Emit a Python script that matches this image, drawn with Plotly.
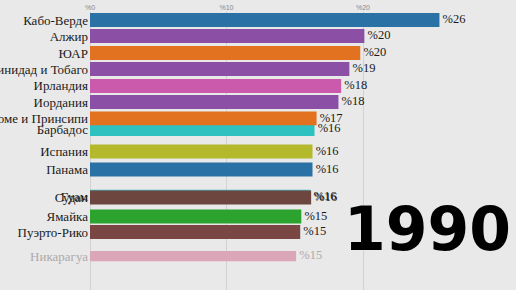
import plotly.graph_objects as go

# ---- data ----
countries = ["Кабо-Верде", "Алжир", "ЮАР", "Тринидад и Тобаго", "Ирландия",
             "Иордания", "Барбадос", "Сан-Томе и Принсипи", "Испания", "Панама",
             "Гуам", "Судан", "Ямайка", "Пуэрто-Рико", "Никарагуа"]
values = [25.6, 20.1, 19.8, 19.0, 18.4, 18.2, 16.45, 16.6, 16.3, 16.3,
          16.15, 16.2, 15.48, 15.4, 15.1]
rank = [1.0, 1.98, 3.01, 3.99, 5.02, 6.0, 7.65, 7.0, 9.02, 10.12,
        11.78, 11.82, 12.98, 13.93, 15.4]
year = "1990"
x_ticks = [0, 10, 20]
x_tick_labels = ["%0", "%10", "%20"]

# ---- styles ----
colors = ["#2a72a6", "#8b4fa6", "#e2721f", "#8b4fa6", "#cc5aac",
          "#8b4fa6", "#2fc0c0", "#e2721f", "#b3b92a", "#2a72a6",
          "#3fb8c4", "#6e4640", "#2ca32f", "#7a4643", "#dba7b8"]
bar_w = [0.85] * 14 + [0.62]
label_colors = ["#1a1a1a"] * 14 + ["#b0a8ab"]

W, H = 516, 290
ML, MR, MT, MB = 90, 0, 12, 0
px_per_unit = 13.65
px_per_rank = 16.4
plot_w = W - ML - MR
plot_h = H - MT - MB
x_max = plot_w / px_per_unit
r0 = 1 - (20 - MT) / px_per_rank
r1 = r0 + plot_h / px_per_rank

fig = go.Figure()
fig.add_trace(go.Bar(
    x=values, y=rank, orientation="h", width=bar_w,
    marker=dict(color=colors, line=dict(width=0)),
    hoverinfo="skip",
))
fig.add_trace(go.Scatter(
    x=values, y=rank, mode="text",
    text=[" %" + str(int(v + 0.5)) for v in values],
    textposition="middle right",
    textfont=dict(family="Liberation Serif", size=12.5, color=label_colors),
    cliponaxis=False, hoverinfo="skip",
))

ticktext = [f'<span style="color:{c}">{n}</span>' for n, c in zip(countries, label_colors)]

fig.update_layout(
    width=W, height=H,
    margin=dict(l=ML, r=MR, t=MT, b=MB, autoexpand=False),
    paper_bgcolor="#e9e9e9", plot_bgcolor="#e9e9e9",
    showlegend=False,
    xaxis=dict(range=[0, x_max], side="top", tickvals=x_ticks, ticktext=x_tick_labels,
               tickfont=dict(family="Liberation Sans", size=7, color="#888"),
               showgrid=True, gridcolor="#d2d2d2", gridwidth=1,
               zeroline=True, zerolinecolor="#d2d2d2", zerolinewidth=1,
               ticks="", ticklen=0, automargin=False),
    yaxis=dict(range=[r1, r0], tickvals=rank, ticktext=ticktext,
               tickfont=dict(family="Liberation Serif", size=13, color="#1a1a1a"),
               showgrid=False, zeroline=False, ticks="", ticklabelstandoff=1,
               automargin=False),
    annotations=[dict(
        text=year, x=(342 - ML) / plot_w, y=1 - (229 - MT) / plot_h,
        xref="paper", yref="paper", xanchor="left", yanchor="middle",
        showarrow=False,
        font=dict(family="DejaVu Sans", size=60, color="#000000", weight="bold"),
    )],
)

fig.write_html("out.html")
